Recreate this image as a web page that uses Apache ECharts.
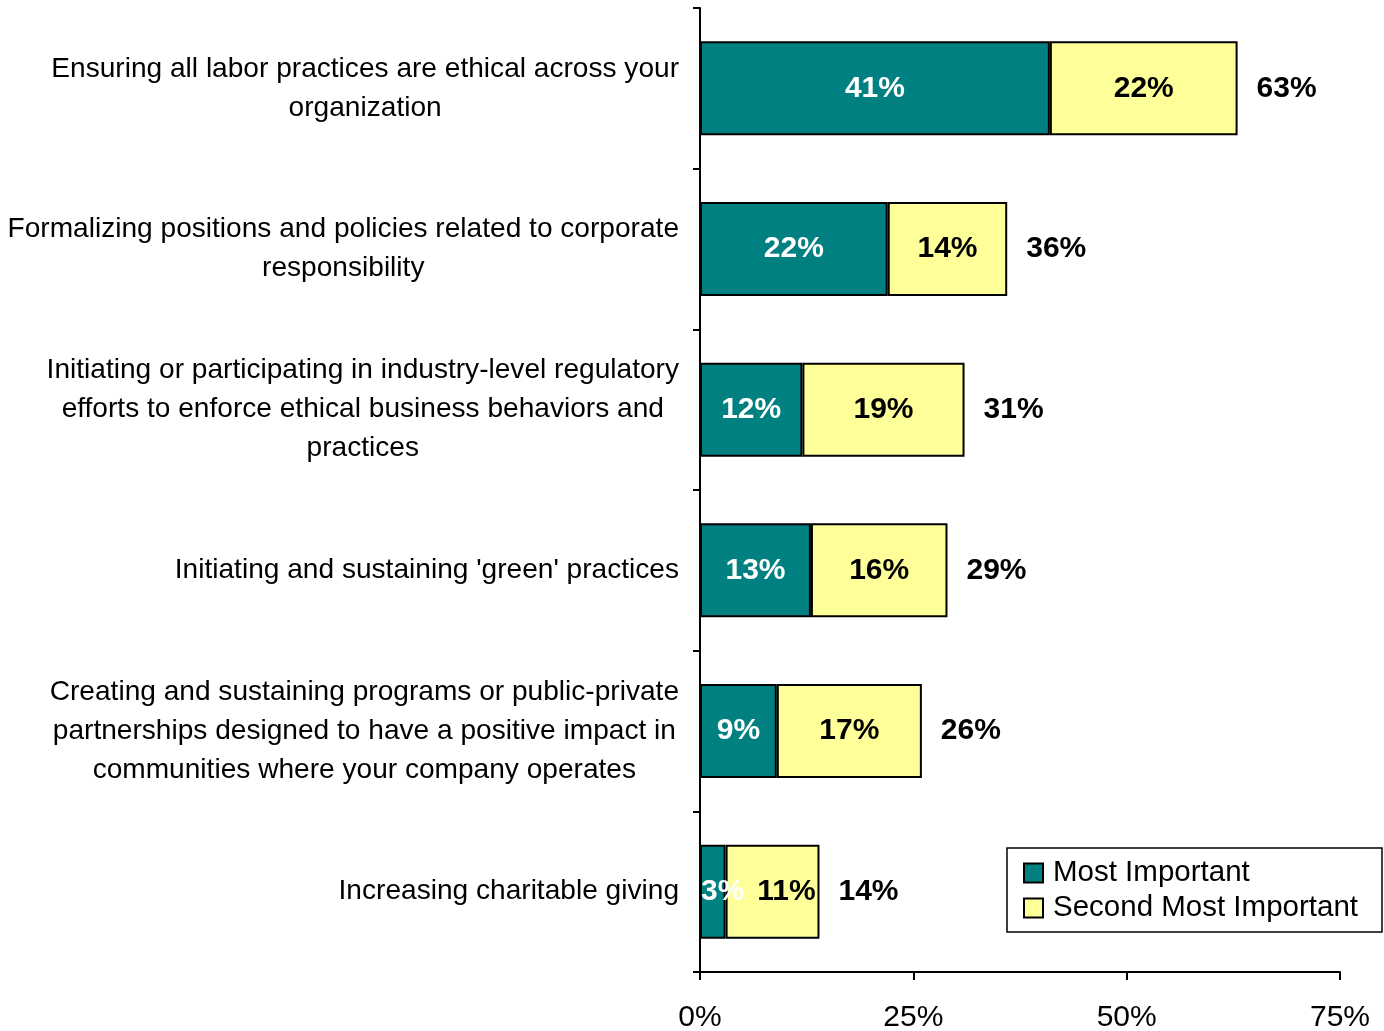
<!DOCTYPE html>
<html>
<head>
<meta charset="utf-8">
<title>Corporate responsibility priorities</title>
<script src="https://cdn.jsdelivr.net/npm/echarts@6/dist/echarts.min.js"></script>
<style>
  html, body { margin: 0; padding: 0; background: #fff; }
  #chart { width: 1384px; height: 1031px; }
</style>
</head>
<body>
<div id="chart"></div>
<script>
// Category labels (line breaks as they are set on the chart)
const categories = [
  'Ensuring all labor practices are ethical across your\norganization',
  'Formalizing positions and policies related to corporate\nresponsibility',
  'Initiating or participating in industry-level regulatory\nefforts to enforce ethical business behaviors and\npractices',
  "Initiating and sustaining 'green' practices",
  'Creating and sustaining programs or public-private\npartnerships designed to have a positive impact in\ncommunities where your company operates',
  'Increasing charitable giving'
];

// Share of respondents (%)
const mostImportant = [41, 22, 12, 13, 9, 3];
const secondMostImportant = [22, 14, 19, 16, 17, 11];
const totals = [63, 36, 31, 29, 26, 14];

// X axis ticks (%)
const xTicks = [0, 25, 50, 75];

const seriesNames = ['Most Important', 'Second Most Important'];

const FONT = '"Liberation Sans", Arial, Helvetica, sans-serif';
const TEAL = '#008080';
const YELLOW = '#FFFF99';

const chart = echarts.init(document.getElementById('chart'), null, { renderer: 'canvas' });

const valueLabel = (color) => ({
  show: true,
  position: 'inside',
  color: color,
  fontFamily: FONT,
  fontWeight: 'bold',
  fontSize: 30,
  formatter: (p) => p.value + '%'
});

// Labels of a very thin first segment are nudged right so they stay readable
const thin = (i) => mostImportant[i] < 5;
const nudged = (values, dx) => values.map((v, i) =>
  thin(i) ? { value: v, label: { offset: [dx, 0] } } : v
);

chart.setOption({
  backgroundColor: '#ffffff',
  animation: false,
  grid: {
    left: 700,
    right: 44,
    top: 8,
    bottom: 59,
    containLabel: false,
    outerBoundsMode: 'none'
  },
  legend: {
    orient: 'vertical',
    left: 1007,
    top: 848,
    data: seriesNames,
    icon: 'rect',
    itemWidth: 19,
    itemHeight: 19,
    itemGap: 5,
    padding: [10, 24, 9, 16],
    backgroundColor: '#ffffff',
    borderColor: '#000000',
    borderWidth: 1.5,
    borderRadius: 0,
    selectedMode: false,
    textStyle: {
      fontFamily: FONT,
      fontSize: 29.5,
      lineHeight: 28,
      color: '#000000',
      padding: [0, 0, 0, 5]
    }
  },
  xAxis: {
    type: 'value',
    min: xTicks[0],
    max: xTicks[xTicks.length - 1],
    interval: xTicks[1] - xTicks[0],
    axisLine: { show: true, lineStyle: { color: '#000', width: 2 } },
    axisTick: { show: true, length: 8, inside: false, lineStyle: { color: '#000', width: 2 } },
    splitLine: { show: false },
    axisLabel: {
      margin: 31,
      fontFamily: FONT,
      fontSize: 30,
      color: '#000',
      formatter: (v) => v + '%'
    }
  },
  yAxis: {
    type: 'category',
    inverse: true,
    data: categories,
    axisLine: { show: true, lineStyle: { color: '#000', width: 2 } },
    axisTick: { show: true, length: 7, inside: false, lineStyle: { color: '#000', width: 2 } },
    splitLine: { show: false },
    axisLabel: {
      interval: 0,
      margin: 21,
      align: 'right',
      formatter: (v) => v.split('\n').map((line) => '{c|' + line + '}').join('\n'),
      rich: {
        c: {
          align: 'center',
          fontFamily: FONT,
          fontSize: 28.1,
          lineHeight: 39,
          color: '#000'
        }
      }
    }
  },
  series: [
    {
      name: seriesNames[0],
      type: 'bar',
      stack: 'share',
      barWidth: 94,
      barGap: '-100%',
      data: nudged(mostImportant, 10),
      itemStyle: { color: TEAL, borderColor: '#000', borderWidth: 2 },
      label: valueLabel('#ffffff')
    },
    {
      name: seriesNames[1],
      type: 'bar',
      stack: 'share',
      barWidth: 94,
      barGap: '-100%',
      data: nudged(secondMostImportant, 14),
      itemStyle: { color: YELLOW, borderColor: '#000', borderWidth: 2 },
      label: valueLabel('#000000')
    },
    {
      // Combined share written past the end of each bar
      name: 'Total',
      type: 'bar',
      barWidth: 94,
      barGap: '-100%',
      silent: true,
      data: totals,
      itemStyle: { color: 'rgba(0,0,0,0)', borderWidth: 0 },
      label: {
        show: true,
        position: 'right',
        distance: 19,
        color: '#000',
        fontFamily: FONT,
        fontWeight: 'bold',
        fontSize: 30,
        formatter: (p) => p.value + '%'
      },
      z: 1
    }
  ]
});
</script>
</body>
</html>
